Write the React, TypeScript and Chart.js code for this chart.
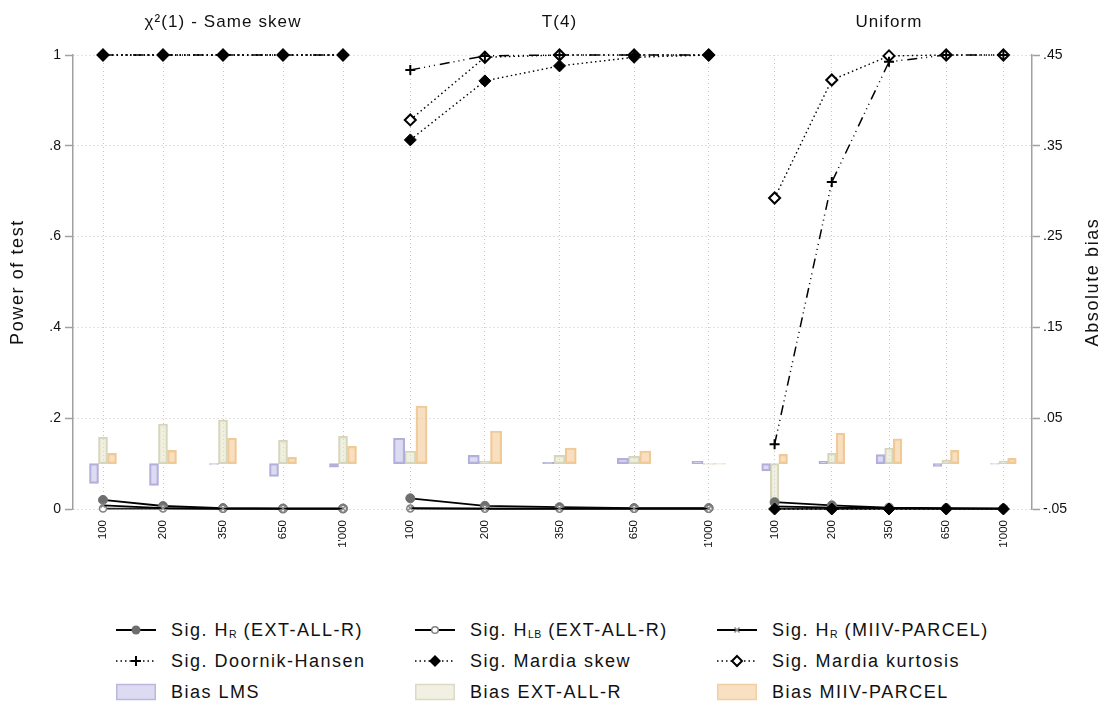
import React, { useEffect, useRef } from 'react';
import { Chart, registerables } from 'chart.js';

Chart.register(...registerables);

// ---------------- data ----------------
const panelTitles = ['χ²(1) - Same skew', 'T(4)', 'Uniform'];
const sampleLabels = ['100', '200', '350', '650', "1'000"];
const powerTicks = [0, 0.2, 0.4, 0.6, 0.8, 1];
const biasTicks = [-0.05, 0.05, 0.15, 0.25, 0.35, 0.45];

// power of test, one row per panel (chi2, T(4), Uniform)
const sigHrExt = [
  [0.020, 0.0066, 0.002, 0.001, 0.001],
  [0.0236, 0.007, 0.004, 0.002, 0.002],
  [0.015, 0.008, 0.003, 0.002, 0.001],
];
const sigHlbExt = [
  [0.001, 0.001, 0.0005, 0.0005, 0.0005],
  [0.001, 0.0005, 0.0005, 0.0005, 0.0005],
  [0.0005, 0.0005, 0.0005, 0.0005, 0.0005],
];
const sigHrMiiv = [
  [0.008, 0.002, 0.001, 0.001, 0.001],
  [0.002, 0.001, 0.001, 0.001, 0.001],
  [0.006, 0.003, 0.002, 0.001, 0.001],
];
const sigDoornik = [
  [1, 1, 1, 1, 1],
  [0.967, 0.998, 1, 1, 1],
  [0.1425, 0.72, 0.985, 1, 1],
];
const sigMardiaSkew = [
  [1, 1, 1, 1, 1],
  [0.813, 0.943, 0.976, 0.995, 1],
  [0, 0, 0, 0, 0],
];
const sigMardiaKurt = [
  [1, 1, 1, 1, 1],
  [0.857, 0.995, 1, 1, 1],
  [0.685, 0.945, 0.998, 1, 1],
];

// absolute bias
const biasLms = [
  [-0.0217, -0.024, -0.001, -0.014, -0.004],
  [0.0279, 0.0091, 0.0014, 0.0058, 0.0025],
  [-0.008, 0.0025, 0.0098, -0.003, -0.0005],
];
const biasExt = [
  [0.029, 0.0436, 0.048, 0.0256, 0.030],
  [0.0139, 0.0029, 0.0091, 0.008, -0.001],
  [-0.0437, 0.0113, 0.0172, 0.0036, 0.0029],
];
const biasMiiv = [
  [0.0113, 0.0146, 0.0279, 0.0069, 0.019],
  [0.0634, 0.0359, 0.0172, 0.0139, -0.0005],
  [0.0102, 0.0334, 0.0274, 0.0146, 0.0058],
];

// ---------------- layout / style ----------------
const W = 1107;
const H = 559;
const FONT = '"Liberation Sans", Arial, Helvetica, sans-serif';
const panelWeights = [300, 373, 286];
const barSlot = 0.15; // width of one bias bar, as a share of a sample-size slot

const fmtTick = (v: number) => {
  if (v === 0) return '0';
  if (v === 1) return '1';
  return String(Math.round(v * 1000) / 1000).replace(/^0\./, '.').replace(/^-0\./, '-.');
};

const lineStyles = [
  {
    data: sigDoornik, borderColor: '#000', borderWidth: 1.5, borderDash: [10, 4, 1, 4, 1, 4, 1, 5],
    pointStyle: 'cross', pointRadius: 5, pointBorderWidth: 2, pointBorderColor: '#000', pointBackgroundColor: '#000',
  },
  {
    data: sigMardiaSkew, borderColor: '#000', borderWidth: 1.4, borderDash: [1.5, 3],
    pointStyle: 'rectRot', pointRadius: 6, pointBorderWidth: 1, pointBorderColor: '#000', pointBackgroundColor: '#000',
  },
  {
    data: sigMardiaKurt, borderColor: '#000', borderWidth: 1.4, borderDash: [1.5, 3],
    pointStyle: 'rectRot', pointRadius: 5.5, pointBorderWidth: 2, pointBorderColor: '#000', pointBackgroundColor: '#fff',
  },
  {
    data: sigHrMiiv, borderColor: '#000', borderWidth: 1.8, borderDash: [],
    pointStyle: 'crossRot', pointRadius: 3.5, pointBorderWidth: 1.5, pointBorderColor: '#888', pointBackgroundColor: '#888',
  },
  {
    data: sigHlbExt, borderColor: '#222', borderWidth: 1.8, borderDash: [],
    pointStyle: 'circle', pointRadius: 3.5, pointBorderWidth: 1.5, pointBorderColor: '#808080', pointBackgroundColor: '#fff',
  },
  {
    data: sigHrExt, borderColor: '#000', borderWidth: 1.8, borderDash: [],
    pointStyle: 'circle', pointRadius: 4.5, pointBorderWidth: 1, pointBorderColor: '#6e6e6e', pointBackgroundColor: '#6e6e6e',
  },
];

const barStyles = [
  { data: biasLms, backgroundColor: 'rgba(187,183,228,0.5)', borderColor: 'rgba(170,165,215,0.9)' },
  { data: biasExt, backgroundColor: 'rgba(226,226,196,0.5)', borderColor: 'rgba(210,208,180,0.9)' },
  { data: biasMiiv, backgroundColor: 'rgba(242,192,128,0.5)', borderColor: 'rgba(238,200,150,0.95)' },
];

const titlePlugin = {
  id: 'stataTitles',
  afterDraw(chart: any) {
    const ctx = chart.ctx as any;
    const area = chart.chartArea;
    ctx.save();
    ctx.fillStyle = '#111';
    ctx.textAlign = 'center';
    ctx.textBaseline = 'middle';
    ctx.font = `17px ${FONT}`;
    ctx.letterSpacing = '1.1px';
    panelTitles.forEach((t, i) => {
      const s = chart.scales['x' + i];
      ctx.fillText(t, (s.left + s.right) / 2, 22.5);
    });
    ctx.font = `18px ${FONT}`;
    ctx.letterSpacing = '1.6px';
    const cy = (area.top + area.bottom) / 2;
    ctx.save();
    ctx.translate(chart.scales.y.left + 18.5, cy);
    ctx.rotate(-Math.PI / 2);
    ctx.fillText('Power of test', 0, 0);
    ctx.restore();
    ctx.save();
    ctx.translate(chart.scales.y2.right - 13.5, cy);
    ctx.rotate(-Math.PI / 2);
    ctx.fillText('Absolute bias', 0, 0);
    ctx.restore();
    ctx.restore();
  },
};

// ---------------- legend ----------------
type Sym = 'hrExt' | 'hlb' | 'hrMiiv' | 'dh' | 'skew' | 'kurt' | 'lms' | 'ext' | 'miiv';

const LegendSymbol = ({ kind }: { kind: Sym }) => {
  const solid = <line x1={0} y1={10} x2={40} y2={10} stroke="#000" strokeWidth={2} />;
  const dotted = <line x1={0} y1={10} x2={40} y2={10} stroke="#000" strokeWidth={1.4} strokeDasharray="1.5 3" />;
  let content: any = null;
  switch (kind) {
    case 'hrExt':
      content = <>{solid}<circle cx={20} cy={10} r={4.5} fill="#6e6e6e" /></>;
      break;
    case 'hlb':
      content = <>{solid}<circle cx={20} cy={10} r={3.3} fill="#fff" stroke="#808080" strokeWidth={1.5} /></>;
      break;
    case 'hrMiiv':
      content = <>{solid}<path d="M17.5 7.5 L22.5 12.5 M22.5 7.5 L17.5 12.5" stroke="#888" strokeWidth={1.5} /></>;
      break;
    case 'dh':
      content = <>{dotted}<path d="M15 10 L25 10 M20 5 L20 15" stroke="#000" strokeWidth={2} /></>;
      break;
    case 'skew':
      content = <>{dotted}<path d="M20 4 L26 10 L20 16 L14 10 Z" fill="#000" /></>;
      break;
    case 'kurt':
      content = <>{dotted}<path d="M20 5 L25 10 L20 15 L15 10 Z" fill="#fff" stroke="#000" strokeWidth={2} /></>;
      break;
    case 'lms':
      content = <rect x={0.75} y={2.5} width={38.5} height={15} fill="#dddbf1" stroke="#bbb7dc" strokeWidth={1.5} />;
      break;
    case 'ext':
      content = <rect x={0.75} y={2.5} width={38.5} height={15} fill="#f1f0e2" stroke="#dcdac6" strokeWidth={1.5} />;
      break;
    case 'miiv':
      content = <rect x={0.75} y={2.5} width={38.5} height={15} fill="#f9e0c2" stroke="#f0cfa4" strokeWidth={1.5} />;
      break;
  }
  return <svg width={40} height={20} style={{ display: 'block', flex: 'none' }}>{content}</svg>;
};

const subStyle: React.CSSProperties = { fontSize: 10.5, verticalAlign: '-2px', letterSpacing: '0.4px', lineHeight: 0 };

const legendItems: { kind: Sym; label: React.ReactNode }[][] = [
  [
    { kind: 'hrExt', label: <>Sig. H<span style={subStyle}>R</span> (EXT-ALL-R)</> },
    { kind: 'hlb', label: <>Sig. H<span style={subStyle}>LB</span> (EXT-ALL-R)</> },
    { kind: 'hrMiiv', label: <>Sig. H<span style={subStyle}>R</span> (MIIV-PARCEL)</> },
  ],
  [
    { kind: 'dh', label: 'Sig. Doornik-Hansen' },
    { kind: 'skew', label: 'Sig. Mardia skew' },
    { kind: 'kurt', label: 'Sig. Mardia kurtosis' },
  ],
  [
    { kind: 'lms', label: 'Bias LMS' },
    { kind: 'ext', label: 'Bias EXT-ALL-R' },
    { kind: 'miiv', label: 'Bias MIIV-PARCEL' },
  ],
];
const legendColX = [116, 415, 717];
const legendRowY = [630, 661, 692];

export default function App() {
  const ref = useRef<HTMLCanvasElement | null>(null);

  useEffect(() => {
    if (!ref.current) return;
    const datasets: any[] = [];
    for (let p = 0; p < 3; p++) {
      lineStyles.forEach((s) => {
        datasets.push({
          type: 'line',
          xAxisID: 'x' + p,
          yAxisID: 'y',
          data: s.data[p],
          borderColor: s.borderColor,
          borderWidth: s.borderWidth,
          borderDash: s.borderDash,
          pointStyle: s.pointStyle,
          pointRadius: s.pointRadius,
          pointBorderWidth: s.pointBorderWidth,
          pointBorderColor: s.pointBorderColor,
          pointBackgroundColor: s.pointBackgroundColor,
          fill: false,
          tension: 0,
          clip: false,
        });
      });
    }
    for (let p = 0; p < 3; p++) {
      barStyles.forEach((s, k) => {
        datasets.push({
          type: 'bar',
          xAxisID: 'b' + p,
          yAxisID: 'y2',
          // each bar sits in its sample-size slot, shifted left / centre / right
          data: s.data[p].map((v, i) => ({ x: i + 0.5 + (k - 1) * barSlot, y: v })),
          backgroundColor: s.backgroundColor,
          borderColor: s.borderColor,
          borderWidth: 1.5,
          borderSkipped: false,
          grouped: false,
          categoryPercentage: 1,
          barPercentage: 1,
        });
      });
    }

    const scales: any = {};
    for (let p = 0; p < 3; p++) {
      scales['x' + p] = {
        type: 'category',
        axis: 'x',
        position: 'bottom',
        stack: 'panels',
        stackWeight: panelWeights[p],
        labels: sampleLabels,
        offset: true,
        grid: { display: true, color: '#c4c4c4', lineWidth: 1, drawTicks: false, offset: false },
        border: { display: false, dash: [1, 3] },
        ticks: {
          autoSkip: false,
          minRotation: 90,
          maxRotation: 90,
          padding: 11,
          color: '#111',
          font: { size: 11.5, family: FONT },
        },
        afterFit: (s: any) => { s.height = H - 509; },
      };
      scales['b' + p] = {
        type: 'linear',
        axis: 'x',
        position: 'top',
        display: false,
        // top boxes are laid out in descending weight: keep panel order left to right
        weight: 3 - p,
        stack: 'barpanels',
        stackWeight: panelWeights[p],
        min: 0,
        max: sampleLabels.length,
        offset: false,
      };
    }
    scales.y = {
      type: 'linear',
      position: 'left',
      min: 0,
      max: 1,
      afterBuildTicks: (a: any) => { a.ticks = powerTicks.map((value) => ({ value })); },
      ticks: { callback: (v: any) => fmtTick(Number(v)), color: '#111', padding: 4, font: { size: 14, family: FONT } },
      grid: { color: '#c4c4c4', lineWidth: 1, tickLength: 8, tickWidth: 1.5, tickColor: '#a0a0a0', tickBorderDash: [] },
      border: { display: true, color: '#a0a0a0', width: 1.5, dash: [1, 3] },
      afterFit: (s: any) => { s.width = 73; },
    };
    scales.y2 = {
      type: 'linear',
      position: 'right',
      min: -0.05,
      max: 0.45,
      afterBuildTicks: (a: any) => { a.ticks = biasTicks.map((value) => ({ value })); },
      ticks: { callback: (v: any) => fmtTick(Number(v)), color: '#111', padding: 3, font: { size: 14, family: FONT } },
      grid: { drawOnChartArea: false, drawTicks: true, tickLength: 8, tickWidth: 1.5, tickColor: '#a0a0a0', tickBorderDash: [] },
      border: { display: true, color: '#a0a0a0', width: 1.5 },
      afterFit: (s: any) => { s.width = W - 1032; },
    };

    const chart = new Chart(ref.current, {
      type: 'bar',
      data: { datasets },
      options: {
        animation: false,
        responsive: false,
        events: [],
        layout: { padding: { top: 55, left: 0, right: 0, bottom: 0 } },
        plugins: { legend: { display: false }, tooltip: { enabled: false }, title: { display: false } },
        scales,
      } as any,
      plugins: [titlePlugin],
    } as any);
    return () => chart.destroy();
  }, []);

  return (
    <div style={{ position: 'absolute', left: 0, top: 0, width: W, height: 707, background: '#fff', fontFamily: FONT }}>
      <canvas ref={ref} width={W} height={H} style={{ display: 'block', width: W, height: H }} />
      {legendItems.map((row, r) =>
        row.map((item, c) => (
          <div
            key={`${r}-${c}`}
            style={{
              position: 'absolute',
              left: legendColX[c],
              top: legendRowY[r] - 11,
              height: 22,
              display: 'flex',
              alignItems: 'center',
              whiteSpace: 'nowrap',
              fontSize: 18,
              letterSpacing: '1.5px',
              color: '#111',
            }}
          >
            <LegendSymbol kind={item.kind} />
            <span style={{ marginLeft: 15, lineHeight: '22px' }}>{item.label}</span>
          </div>
        ))
      )}
    </div>
  );
}
